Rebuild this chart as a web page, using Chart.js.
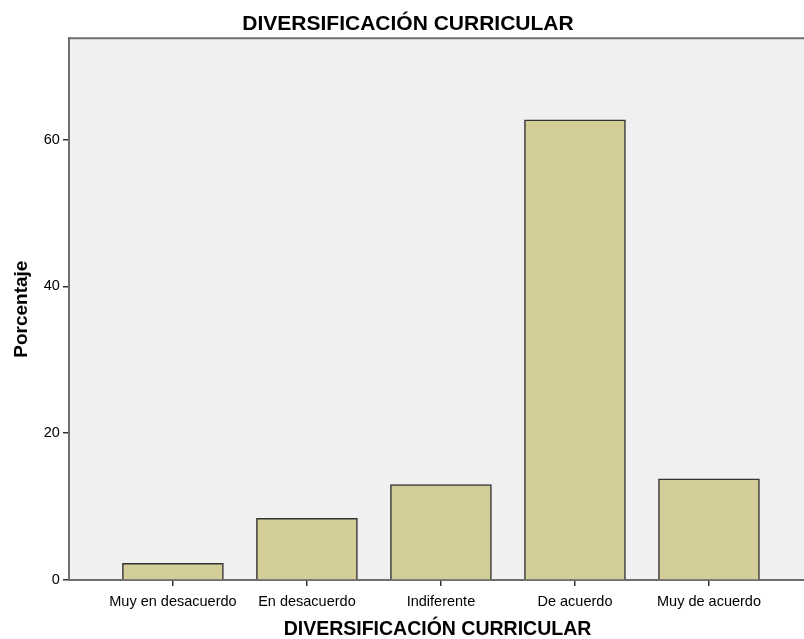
<!DOCTYPE html>
<html>
<head>
<meta charset="utf-8">
<script src="https://cdn.jsdelivr.net/npm/chart.js@4.4.0/dist/chart.umd.min.js"></script>
<style>
  body { margin: 0; background: #fff; overflow: hidden; }
  .chartbox { width: 820px; height: 639px; }
</style>
</head>
<body>
<div class="chartbox"><canvas id="chart" width="820" height="639"></canvas></div>
<script>
let categories = ['Muy en desacuerdo', 'En desacuerdo', 'Indiferente', 'De acuerdo', 'Muy de acuerdo']
let percent = [2.3, 8.4, 13.0, 62.7, 13.8]
let yTicks = [0, 20, 40, 60]

// fondo gris del área del gráfico + borde superior
const plotBg = {
    id: 'plotBg',
    beforeDraw(chart) {
        let a = chart.chartArea
        let ctx = chart.ctx
        ctx.save()
        ctx.fillStyle = '#f0f0f0'
        ctx.fillRect(a.left, a.top, a.right - a.left, a.bottom - a.top)
        ctx.strokeStyle = '#6e6e6e'
        ctx.lineWidth = 2
        ctx.beginPath()
        ctx.moveTo(a.left, a.top)
        ctx.lineTo(a.right, a.top)
        ctx.stroke()
        ctx.restore()
    }
}

let points = categories.map((c, i) => ({ x: i, y: percent[i] }))

new Chart(document.getElementById('chart'), {
    type: 'bar',
    data: {
        datasets: [{
            label: 'Porcentaje',
            data: points,
            backgroundColor: '#d3ce97',
            borderColor: '#333333',
            borderWidth: 1.5,
            barThickness: 101
        }]
    },
    options: {
        responsive: false,
        animation: false,
        layout: { padding: { left: 10, right: 14, top: 0, bottom: 0 } },
        plugins: {
            legend: { display: false },
            tooltip: { enabled: false },
            title: {
                display: true,
                text: 'DIVERSIFICACIÓN CURRICULAR',
                color: '#000',
                font: { family: 'Liberation Sans', size: 21, weight: 'bold', lineHeight: 1.2 },
                padding: { top: 12, bottom: 1 }
            }
        },
        scales: {
            x: {
                type: 'linear',
                offset: false,
                min: -0.776,
                max: 4.724,
                afterBuildTicks: s => { s.ticks = categories.map((c, i) => ({ value: i })) },
                ticks: {
                    color: '#000',
                    font: { family: 'Liberation Sans', size: 14.5 },
                    maxRotation: 0,
                    autoSkip: false,
                    padding: 7,
                    callback: v => categories[v]
                },
                grid: { offset: false, drawOnChartArea: false, tickLength: 6, color: '#333', lineWidth: 1.5 },
                border: { color: '#6e6e6e', width: 2 },
                title: {
                    display: true,
                    text: 'DIVERSIFICACIÓN CURRICULAR',
                    color: '#000',
                    font: { family: 'Liberation Sans', size: 19.5, weight: 'bold', lineHeight: 1.0 },
                    padding: { top: 2, bottom: 0 }
                }
            },
            y: {
                min: 0,
                max: 73.8,
                afterBuildTicks: s => { s.ticks = yTicks.map(v => ({ value: v })) },
                ticks: {
                    color: '#000',
                    font: { family: 'Liberation Sans', size: 14.5 },
                    padding: 3
                },
                grid: { drawOnChartArea: false, tickLength: 6, color: '#333', lineWidth: 1.5 },
                border: { color: '#6e6e6e', width: 2 },
                title: {
                    display: true,
                    text: 'Porcentaje',
                    color: '#000',
                    font: { family: 'Liberation Sans', size: 19, weight: 'bold', lineHeight: 1.2 },
                    padding: { top: 0, bottom: 8 }
                }
            }
        }
    },
    plugins: [plotBg]
})
</script>
</body>
</html>
